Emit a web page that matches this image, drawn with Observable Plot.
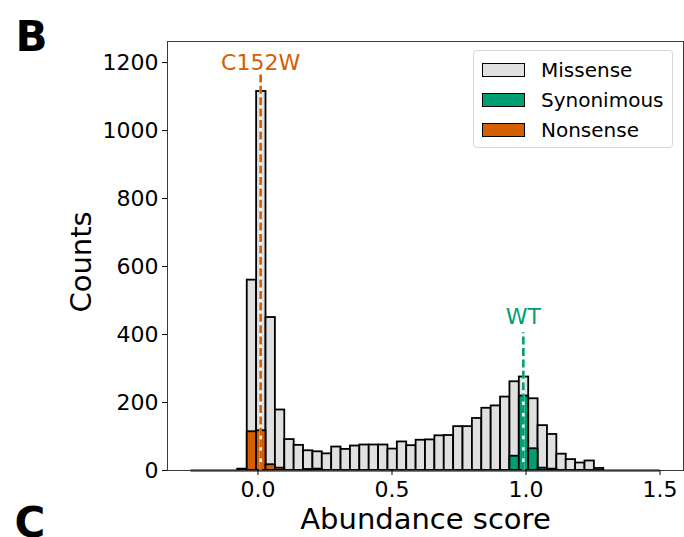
<!DOCTYPE html>
<html>
<head>
<meta charset="utf-8">
<script src="https://cdn.jsdelivr.net/npm/d3@7"></script>
<script src="https://cdn.jsdelivr.net/npm/@observablehq/plot@0.6"></script>
<style>
  body { margin: 0; background: #fff; font-family: "DejaVu Sans", sans-serif; }
  #wrap { position: relative; width: 684px; height: 537px; overflow: hidden; }
  .legend { position: absolute; left: 473px; top: 50px; width: 200px; height: 98px;
            border: 1px solid #d6d6d6; border-radius: 4px; background: rgba(255,255,255,0.85);
            box-sizing: border-box; }
  .legend .row { position: absolute; left: 8px; display: flex; align-items: center;
                 font-size: 20px; color: #000; line-height: 1; }
  .legend .sw { width: 43px; height: 14px; border: 1.6px solid #000; box-sizing: border-box; margin-right: 16px; }
</style>
</head>
<body>
<div id="wrap"></div>
<script>
// Histogram binning of abundance scores
const binStart = -0.25;
const binWidth = 0.035;
const binCount = 50;

// Counts per bin for each variant class
const missense = [0, 0, 0, 0, 0, 4, 560, 1115, 450, 178,
                  91, 74, 58, 55, 49, 69, 62, 72, 75, 75,
                  75, 63, 84, 73, 89, 90, 102, 103, 129, 129,
                  153, 183, 190, 216, 261, 275, 211, 132, 106, 48,
                  32, 22, 28, 6, 0, 0, 0, 0, 0, 0];
const synonymous = [0, 0, 0, 0, 0, 0, 0, 0, 0, 0,
                    0, 0, 0, 0, 0, 0, 0, 0, 0, 0,
                    0, 0, 0, 0, 0, 0, 0, 0, 0, 0,
                    0, 0, 0, 0, 42, 219, 64, 7, 4, 0,
                    0, 0, 0, 0, 0, 0, 0, 0, 0, 0];
const nonsense = [0, 0, 0, 0, 0, 2, 114, 117, 17, 7,
                  0, 0, 3, 4, 0, 0, 0, 0, 0, 0,
                  0, 0, 0, 0, 0, 0, 0, 0, 0, 0,
                  0, 0, 0, 0, 0, 0, 0, 0, 0, 0,
                  0, 0, 0, 0, 0, 0, 0, 0, 0, 0];

const seriesNames = ["Missense", "Synonimous", "Nonsense"];
const seriesColors = ["#e0e0e0", "#009e73", "#d55e00"];

// Reference variants marked with dashed lines
const markerNames = ["C152W", "WT"];
const markerScores = [0.01, 0.99];
const markerLineTops = [1170, 405];

const xTicks = [0, 0.5, 1.0, 1.5];
const yTicks = [0, 200, 400, 600, 800, 1000, 1200];

const edges = d3.range(binCount + 1).map(i => binStart + i * binWidth);
const toBins = counts => counts
  .map((c, i) => ({x1: edges[i], x2: edges[i + 1], count: c}))
  .filter(d => d.count > 0);

const series = [missense, synonymous, nonsense];
const markerColors = ["#d55e00", "#009e73"];
const markerLabelDy = [-10, -16];

const barMarks = series.map((counts, k) =>
  Plot.rectY(toBins(counts), {
    x1: "x1", x2: "x2", y1: 0, y2: "count",
    fill: seriesColors[k], stroke: "#000", strokeWidth: 1.8
  })
);

const markerMarks = markerNames.flatMap((name, k) => {
  const d = [{x: markerScores[k], top: markerLineTops[k], name}];
  return [
    Plot.ruleX(d, {x: "x", y1: 0, y2: "top", stroke: "#fff", strokeWidth: 2.6}),
    Plot.ruleX(d, {x: "x", y1: 0, y2: "top", stroke: markerColors[k], strokeWidth: 2.6, strokeDasharray: "8,3.4"}),
    Plot.text(d, {x: "x", y: "top", text: "name", fill: markerColors[k], fontSize: 22, dy: markerLabelDy[k]})
  ];
});

const chart = Plot.plot({
  width: 684,
  height: 537,
  marginLeft: 167,
  marginRight: 1,
  marginTop: 41,
  marginBottom: 67,
  x: {domain: [-0.3375, 1.5875]},
  y: {domain: [0, 1262]},
  style: {fontFamily: "DejaVu Sans", fontSize: "22px", background: "#fff", color: "#000", overflow: "visible"},
  marks: [
    ...barMarks,
    Plot.ruleY([0], {x1: edges[0], x2: edges[binCount], stroke: "#000", strokeWidth: 2}),
    ...markerMarks,
    Plot.frame({stroke: "#3a3a3a", strokeWidth: 1}),
    Plot.axisX({ticks: xTicks, tickFormat: d3.format(".1f"), tickSize: 5, tickPadding: 6, fontSize: 22, label: null}),
    Plot.axisY({ticks: yTicks, tickFormat: d => String(d), tickSize: 5, tickPadding: 4, fontSize: 22, label: null}),
    Plot.text(["Abundance score"], {frameAnchor: "bottom", textAnchor: "middle", lineAnchor: "middle", dy: 49, fontSize: 29}),
    Plot.text(["Counts"], {frameAnchor: "left", textAnchor: "middle", lineAnchor: "middle", dx: -86, dy: 6, rotate: -90, fontSize: 29}),
    Plot.text(["B"], {frameAnchor: "top-left", dx: -152, dy: -20, lineAnchor: "top", textAnchor: "start", fontSize: 42, fontWeight: "bold"}),
    Plot.text(["C"], {frameAnchor: "bottom-left", dx: -153, dy: 37, lineAnchor: "top", textAnchor: "start", fontSize: 42, fontWeight: "bold"})
  ]
});

const wrap = document.getElementById("wrap");
wrap.appendChild(chart);

// Legend box in the upper right of the axes
const legend = document.createElement("div");
legend.className = "legend";
seriesNames.forEach((name, k) => {
  const row = document.createElement("div");
  row.className = "row";
  row.style.top = (9 + k * 30) + "px";
  const sw = document.createElement("span");
  sw.className = "sw";
  sw.style.background = seriesColors[k];
  const label = document.createElement("span");
  label.textContent = name;
  row.appendChild(sw);
  row.appendChild(label);
  legend.appendChild(row);
});
wrap.appendChild(legend);
</script>
</body>
</html>
